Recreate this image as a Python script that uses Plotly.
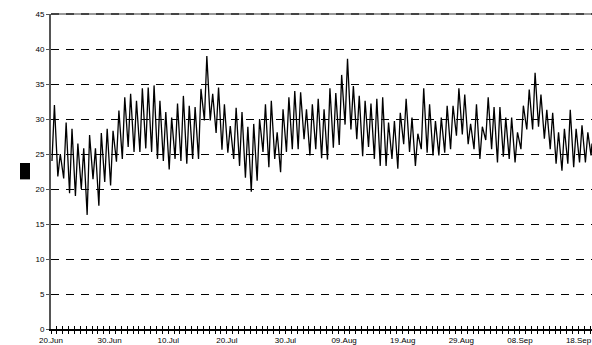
import pandas as pd
import plotly.graph_objects as go

start_date = "2006-06-20"
x_end = "2006-09-20 07:00"
# daily minimum (early morning) and maximum (afternoon) values
daily_min = [24, 21.8, 21.5, 19.4, 19, 20, 16.3, 21.4, 17.6, 21,
             20.5, 23.9, 24.3, 26, 25.3, 25.3, 25.8, 25.3, 24.3, 24,
             22.8, 24.3, 24, 23.6, 24.3, 24.3, 29.8, 29.8, 28, 25.6,
             25.2, 24.3, 23.3, 21.6, 19.6, 21.2, 25.3, 23.1, 24.3, 22.4,
             25.3, 25.7, 25.7, 27.1, 24.8, 25.7, 24.4, 24.2, 25.9, 26.3,
             29.2, 28.5, 27.1, 24.7, 26, 24.3, 23.3, 23.3, 24.3, 22.9,
             26.4, 25.3, 23.3, 25.7, 25.2, 24.8, 24.8, 25.2, 25.7, 27.6,
             27.8, 26.4, 25.7, 24.3, 27, 25.7, 23.8, 24.6, 24.3, 23.8,
             25.7, 28.5, 28.5, 28.9, 27.2, 25.7, 23.6, 22.6, 23.6, 23.1,
             23.8, 23.8]
daily_max = [32, 25, 29.5, 28.6, 26.5, 25.8, 27.7, 25.8, 28, 28.6,
             28.3, 31.2, 33.1, 33.6, 32.6, 34.4, 34.5, 34.8, 32.6, 31,
             30.2, 32.2, 33.3, 31.9, 31.7, 34.3, 39, 33.6, 34.5, 32.1,
             29, 31.6, 31, 28.9, 29.3, 30, 32.1, 32.6, 28.1, 31.4,
             33.1, 34, 33.8, 31.4, 32.1, 32.9, 31.4, 34.4, 33.7, 36.3,
             38.6, 34.7, 33.3, 32.6, 32.2, 32.9, 33.1, 29.5, 29.7, 30.9,
             32.9, 30.2, 27.9, 34.4, 32.1, 29.7, 30.2, 31.9, 31.9, 34.4,
             33.5, 29.3, 32.1, 28.9, 33.1, 31.7, 31.7, 30.2, 30.2, 28.1,
             31.9, 34.2, 36.6, 33.5, 31.3, 30.9, 28.1, 28.6, 31.3, 28.6,
             29.1, 28.1]
tail_values = [24.8, 26.5]
tick_labels = ["20.Jun", "30.Jun", "10.Jul", "20.Jul", "30.Jul",
               "09.Aug", "19.Aug", "29.Aug", "08.Sep", "18.Sep"]
y_ticks = [0, 5, 10, 15, 20, 25, 30, 35, 40, 45]

base = pd.Timestamp(start_date)
xs, ys = [], []
for d, (lo, hi) in enumerate(zip(daily_min, daily_max)):
    xs.append(base + pd.Timedelta(days=d, hours=4))
    ys.append(lo)
    xs.append(base + pd.Timedelta(days=d, hours=14))
    ys.append(hi)
n = len(daily_min)
for k, v in enumerate(tail_values):
    xs.append(base + pd.Timedelta(days=n, hours=3 + 4 * k))
    ys.append(v)

tick_vals = [base + pd.Timedelta(days=10 * i) for i in range(len(tick_labels))]

fig = go.Figure()
fig.add_trace(go.Scatter(x=xs, y=ys, mode="lines",
                         line=dict(color="black", width=1.3),
                         hoverinfo="skip", showlegend=False))
fig.add_trace(go.Scatter(x=xs, y=ys, mode="lines", xaxis="x2",
                         line=dict(color="black", width=1), opacity=0,
                         hoverinfo="skip", showlegend=False))

font = dict(family="Liberation Sans, Arial, sans-serif", size=8, color="black")
common_x = dict(type="date", range=[start_date, x_end],
                tickvals=tick_vals, showgrid=False, zeroline=False,
                ticklen=3, tickwidth=1, tickcolor="black",
                minor=dict(dtick=86400000, tick0=start_date, ticklen=3,
                           tickwidth=1, tickcolor="black", showgrid=False))
fig.update_layout(
    width=592, height=345,
    margin=dict(l=51, r=0, t=14, b=16),
    paper_bgcolor="white", plot_bgcolor="white",
    font=font,
    xaxis=dict(**common_x, ticktext=tick_labels, ticks="outside",
               minor_ticks="outside",
               showline=True, linecolor="black", linewidth=1.5,
               tickfont=font),
    xaxis2=dict(**common_x, overlaying="x", ticks="inside",
                minor_ticks="inside", showticklabels=False, showline=False),
    yaxis=dict(range=[0, 45], tickvals=y_ticks, ticks="outside", ticklen=3,
               tickcolor="#555", showline=True, linecolor="#555",
               linewidth=2, zeroline=False,
               showgrid=True, gridcolor="black", gridwidth=1,
               griddash="8px,7px", tickfont=font),
    shapes=[
        dict(type="line", xref="paper", yref="paper", x0=0, x1=1, y0=1, y1=1,
             line=dict(color="#999", width=2), layer="above"),
        dict(type="line", xref="paper", yref="paper", x0=0, x1=1, y0=1, y1=1,
             line=dict(color="#444", width=2, dash="8px,7px"), layer="above"),
        dict(type="rect", xref="paper", yref="paper",
             x0=-0.0573, x1=-0.0388, y0=0.475, y1=0.527,
             fillcolor="black", line=dict(width=0)),
    ],
)
fig.write_html("out.html",
               config={"displayModeBar": False, "staticPlot": True},
               post_script="document.body.style.margin='0';"
                           "document.body.style.overflow='hidden';")
